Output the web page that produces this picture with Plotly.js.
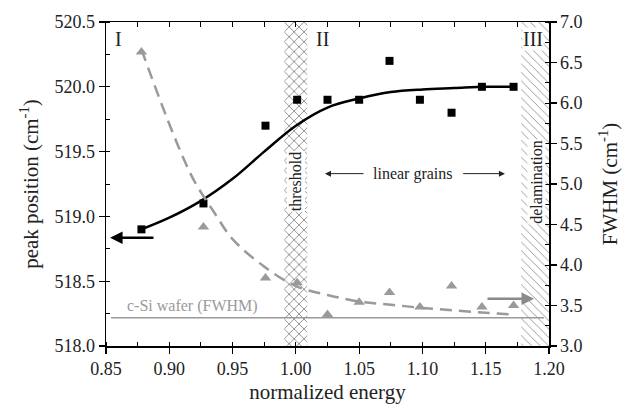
<!DOCTYPE html>
<html>
<head>
<meta charset="utf-8">
<script src="https://cdn.plot.ly/plotly-3.0.1.min.js"></script>
<style>html,body{margin:0;padding:0;background:#fff;}#chart{width:630px;height:408px;}</style>
</head>
<body>
<div id="chart"></div>
<script>
// ---- data ----
const energy   = [0.878, 0.927, 0.976, 1.001, 1.025, 1.050, 1.074, 1.098, 1.123, 1.147, 1.172];
const peakPos  = [518.9, 519.1, 519.7, 519.9, 519.9, 519.9, 520.2, 519.9, 519.8, 520.0, 520.0];
const fwhm     = [6.63, 4.47, 3.84, 3.78, 3.39, 3.54, 3.66, 3.48, 3.74, 3.48, 3.50];

const fitX     = [0.878, 0.90, 0.925, 0.95, 0.975, 1.00, 1.025, 1.05, 1.075, 1.10, 1.125, 1.15, 1.172];
const fitPeak  = [518.90, 518.99, 519.12, 519.29, 519.50, 519.70, 519.84, 519.91, 519.96, 519.98, 519.99, 520.00, 520.00];

const decayX    = [0.878, 0.89, 0.90, 0.91, 0.92, 0.935, 0.95, 0.975, 1.00, 1.025, 1.05, 1.075, 1.10, 1.125, 1.15, 1.172];
const decayFwhm = [6.66, 6.15, 5.74, 5.36, 5.03, 4.66, 4.32, 3.98, 3.74, 3.63, 3.55, 3.51, 3.47, 3.44, 3.41, 3.39];

const waferX    = [0.854, 1.196];
const waferFwhm = [3.35, 3.35];

const thresholdBand    = {center: 1.000, width: 0.018};
const delaminationBand = {center: 1.189, width: 0.022};
const peakRange = [518.0, 520.5];
const fwhmRange = [3.0, 7.0];
const energyRange = [0.85, 1.20];

const FONT = 'Liberation Serif';
const GREY = '#9a9a9a';
const INK = '#222';

const traces = [
  {type: 'bar', x: [thresholdBand.center], y: [peakRange[1] - peakRange[0]], base: [peakRange[0]],
   width: [thresholdBand.width], xaxis: 'x', yaxis: 'y', hoverinfo: 'skip', showlegend: false,
   marker: {color: 'white', line: {width: 0},
            pattern: {shape: 'x', fgcolor: '#707070', bgcolor: 'white', size: 7, solidity: 0.2}}},
  {type: 'bar', x: [delaminationBand.center], y: [peakRange[1] - peakRange[0]], base: [peakRange[0]],
   width: [delaminationBand.width], xaxis: 'x', yaxis: 'y', hoverinfo: 'skip', showlegend: false,
   marker: {color: 'white', line: {width: 0},
            pattern: {shape: '\\', fgcolor: '#777', bgcolor: 'white', size: 6, solidity: 0.12}}},
  {type: 'scatter', x: [], y: [], xaxis: 'x2', yaxis: 'y', showlegend: false, hoverinfo: 'skip'},
  {type: 'scatter', mode: 'lines', x: waferX, y: waferFwhm, xaxis: 'x', yaxis: 'y2', showlegend: false,
   line: {color: GREY, width: 1.5}},
  {type: 'scatter', mode: 'lines', x: decayX, y: decayFwhm, xaxis: 'x', yaxis: 'y2', showlegend: false,
   line: {color: GREY, width: 2.5, dash: '12px,7px', shape: 'spline', smoothing: 1}},
  {type: 'scatter', mode: 'markers', x: energy, y: fwhm, xaxis: 'x', yaxis: 'y2', showlegend: false,
   marker: {symbol: 'triangle-up', size: 10, color: GREY}},
  {type: 'scatter', mode: 'lines', x: fitX, y: fitPeak, xaxis: 'x', yaxis: 'y', showlegend: false,
   line: {color: 'black', width: 2.5, shape: 'spline', smoothing: 1}},
  {type: 'scatter', mode: 'markers', x: energy, y: peakPos, xaxis: 'x', yaxis: 'y', showlegend: false,
   marker: {symbol: 'square', size: 8, color: 'black'}}
];

const tickFont = {family: FONT, size: 18, color: INK};
const titleFont = {family: FONT, size: 21, color: INK};

const layout = {
  width: 630, height: 408,
  margin: {l: 106, r: 81, t: 22, b: 62},
  paper_bgcolor: 'white', plot_bgcolor: 'white',
  barmode: 'overlay',
  showlegend: false,
  font: {family: FONT, color: INK},
  xaxis: {range: energyRange, showgrid: false, zeroline: false, showline: true, linecolor: 'black', linewidth: 1.5,
          ticks: 'outside', ticklen: 6, tickcolor: 'black', tickwidth: 1.2, dtick: 0.05, tick0: 0.85, tickformat: '.2f',
          tickfont: tickFont, minor: {ticks: 'inside', dtick: 0.025, tick0: 0.85, ticklen: 4, tickcolor: 'black', tickwidth: 1},
          title: {text: 'normalized energy', font: titleFont, standoff: 6}},
  xaxis2: {range: energyRange, overlaying: 'x', side: 'top', anchor: 'y', showgrid: false, zeroline: false,
           showline: true, linecolor: 'black', linewidth: 1.5, ticks: 'inside', ticklen: 5, tickcolor: 'black', tickwidth: 1,
           dtick: 0.025, tick0: 0.85, showticklabels: false},
  yaxis: {range: peakRange, showgrid: false, zeroline: false, showline: true, linecolor: 'black', linewidth: 1.5,
          ticks: 'outside', ticklen: 6, tickcolor: 'black', tickwidth: 1.2, dtick: 0.5, tick0: 518, tickformat: '.1f',
          tickfont: tickFont, minor: {ticks: 'inside', dtick: 0.25, tick0: 518, ticklen: 4, tickcolor: 'black', tickwidth: 1},
          title: {text: 'peak position (cm<sup>-1</sup>)', font: titleFont, standoff: 10}},
  yaxis2: {range: fwhmRange, overlaying: 'y', side: 'right', anchor: 'x', showgrid: false, zeroline: false,
           showline: true, linecolor: 'black', linewidth: 1.5,
           ticks: 'outside', ticklen: 6, tickcolor: 'black', tickwidth: 1.2, dtick: 0.5, tick0: 3, tickformat: '.1f',
           tickfont: tickFont, minor: {ticks: 'inside', dtick: 0.25, tick0: 3, ticklen: 4, tickcolor: 'black', tickwidth: 1},
           title: {text: 'FWHM (cm<sup>-1</sup>)', font: titleFont, standoff: 20}},
  annotations: [
    {x: 0.8595, y: 520.37, xref: 'x', yref: 'y', text: 'I', showarrow: false, font: {family: FONT, size: 20, color: INK}},
    {x: 1.0207, y: 520.37, xref: 'x', yref: 'y', text: 'II', showarrow: false, font: {family: FONT, size: 20, color: INK}},
    {x: 1.1874, y: 520.37, xref: 'x', yref: 'y', text: 'III', showarrow: false, bgcolor: 'white', borderpad: 0,
     font: {family: FONT, size: 20, color: INK}},
    {x: 1.000, y: 519.27, xref: 'x', yref: 'y', text: 'threshold', textangle: -90, showarrow: false,
     bgcolor: 'white', borderpad: 0, font: {family: FONT, size: 16, color: INK}},
    {x: 1.190, y: 519.27, xref: 'x', yref: 'y', text: 'delamination', textangle: -90, showarrow: false,
     bgcolor: 'white', borderpad: 0, font: {family: FONT, size: 16, color: INK}},
    {x: 1.0926, y: 519.33, xref: 'x', yref: 'y', text: 'linear grains', showarrow: false,
     font: {family: FONT, size: 16, color: INK}},
    {x: 1.023, y: 519.33, ax: 1.0546, ay: 519.33, xref: 'x', yref: 'y', axref: 'x', ayref: 'y', text: '',
     showarrow: true, arrowhead: 2, arrowsize: 1.2, arrowwidth: 1, arrowcolor: INK, standoff: 0},
    {x: 1.1652, y: 519.33, ax: 1.131, ay: 519.33, xref: 'x', yref: 'y', axref: 'x', ayref: 'y', text: '',
     showarrow: true, arrowhead: 2, arrowsize: 1.2, arrowwidth: 1, arrowcolor: INK, standoff: 0},
    {x: 0.8532, y: 518.835, ax: 0.8887, ay: 518.835, xref: 'x', yref: 'y', axref: 'x', ayref: 'y', text: '',
     showarrow: true, arrowhead: 2, arrowsize: 1, arrowwidth: 2.5, arrowcolor: 'black', standoff: 0},
    {x: 1.1882, y: 3.583, ax: 1.1502, ay: 3.583, xref: 'x', yref: 'y2', axref: 'x', ayref: 'y2', text: '',
     showarrow: true, arrowhead: 2, arrowsize: 1, arrowwidth: 2.5, arrowcolor: '#8a8a8a', standoff: 0},
    {x: 0.865, y: 3.35, xref: 'x', yref: 'y2', text: 'c-Si wafer (FWHM)', showarrow: false,
     xanchor: 'left', yanchor: 'bottom', yshift: 1, font: {family: FONT, size: 16, color: GREY}}
  ]
};

Plotly.newPlot('chart', traces, layout, {staticPlot: true, displayModeBar: false});
</script>
</body>
</html>
